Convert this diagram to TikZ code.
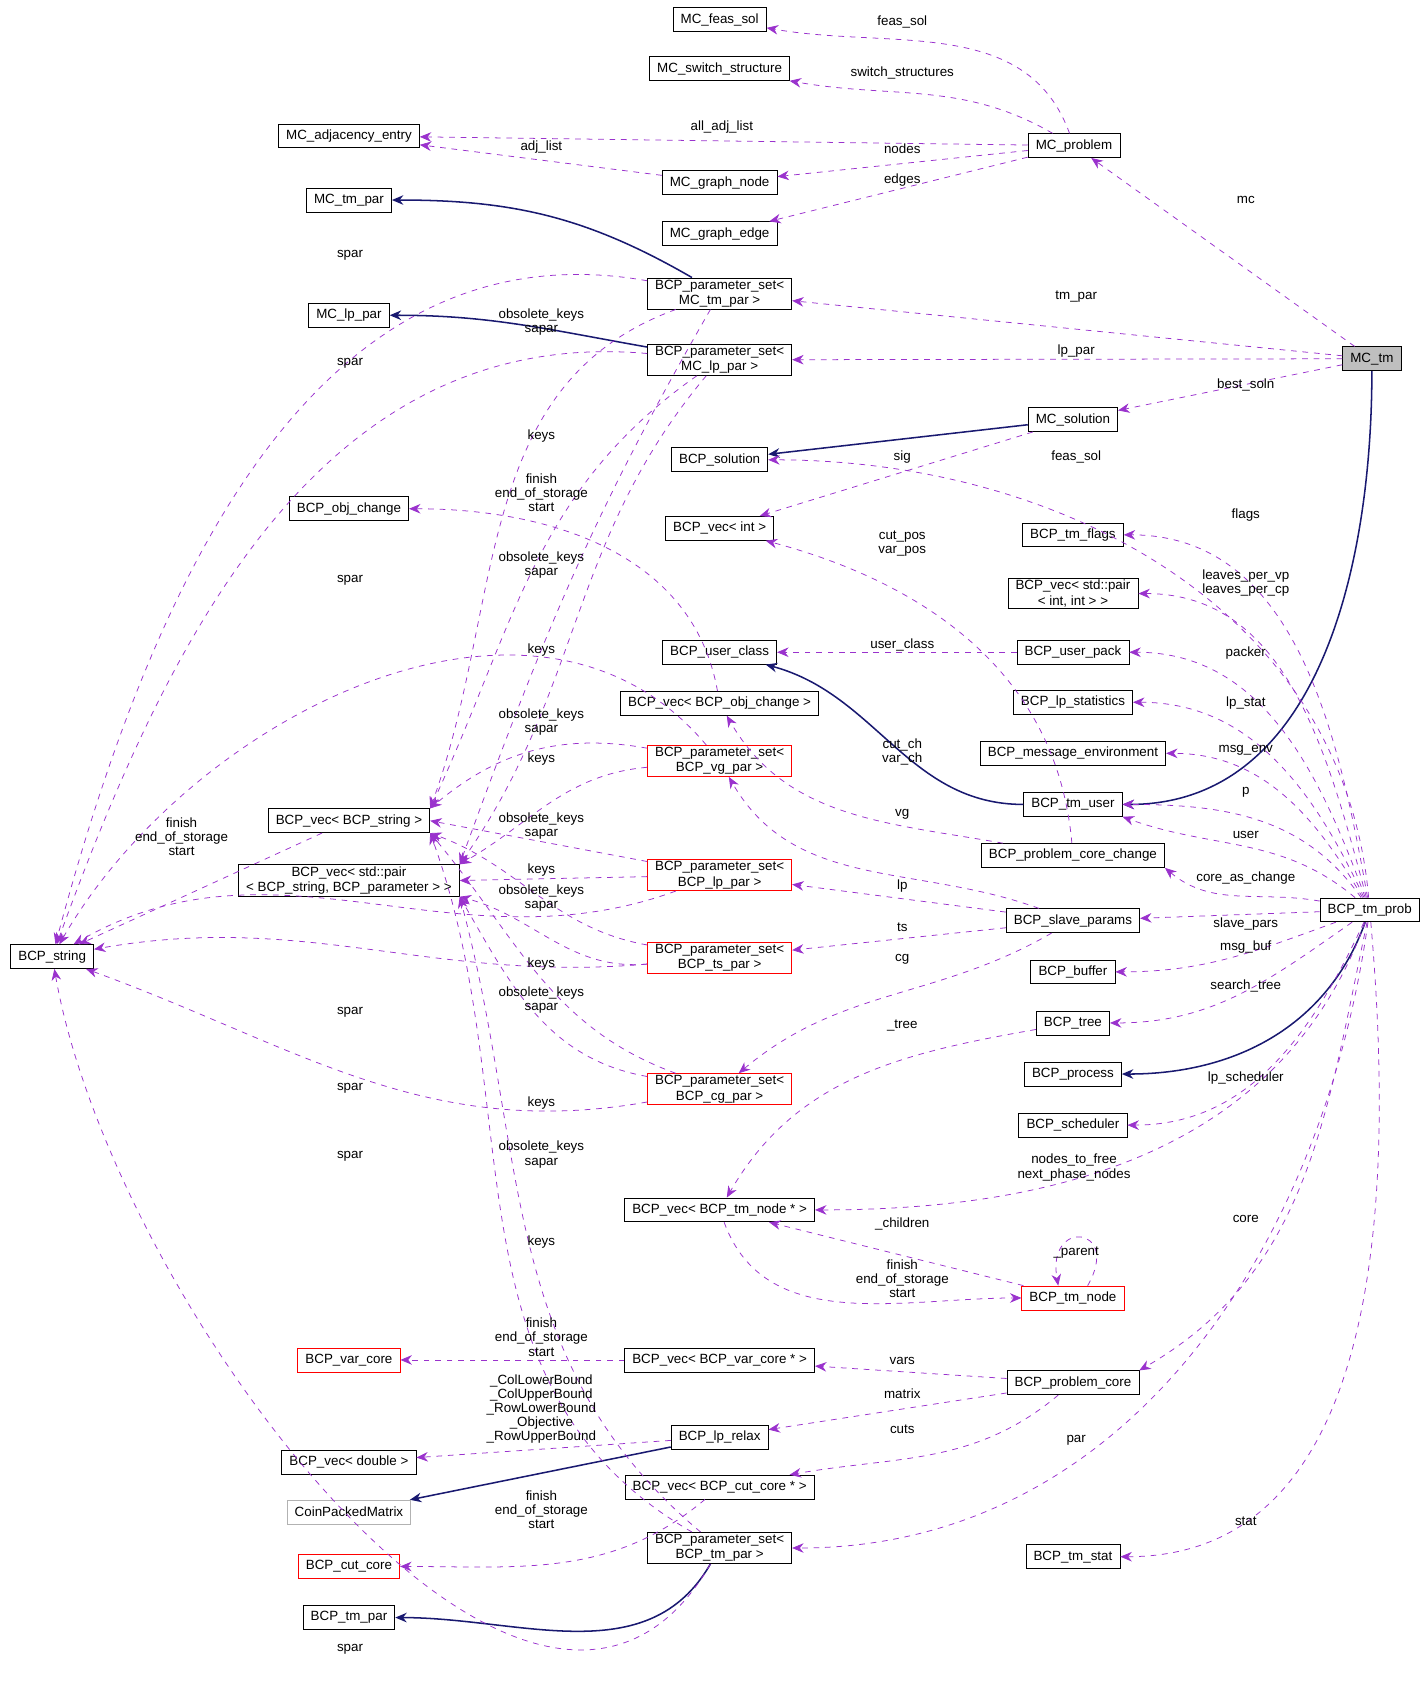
\documentclass[tikz,border=0pt]{standalone}
\usepackage{fontspec}
\setmainfont{Liberation Sans}
\usetikzlibrary{arrows.meta}
\definecolor{dep}{HTML}{9A32CD}
\definecolor{inh}{HTML}{191970}
\tikzset{
  cls/.style={draw=black,fill=white,font=\fontsize{7}{8}\selectfont,align=center,inner xsep=4pt,inner ysep=1pt,minimum height=0.44cm},
  redcls/.style={cls,draw=red},
  graycls/.style={cls,draw=black!30},
  lbl/.style={font=\fontsize{7}{7.4}\selectfont,align=center,inner sep=0pt},
  dep/.style={dashed,draw=dep,-{Stealth[length=6pt,width=5pt]},fill=none},
  inh/.style={draw=inh,thick,-{Stealth[length=6pt,width=5pt]}},
}
\begin{document}
\begin{tikzpicture}[x=0.02cm,y=0.02cm]
  \useasboundingbox (0,0) rectangle (1310,-1562);
  % classes
  \node[cls] (MC_feas_sol) at (662,-18) {MC\_feas\_sol};
  \node[cls] (MC_switch_structure) at (662,-63) {MC\_switch\_structure};
  \node[cls] (MC_adjacency_entry) at (321,-125) {MC\_adjacency\_entry};
  \node[cls] (MC_problem) at (988,-134) {MC\_problem};
  \node[cls] (MC_graph_node) at (662,-168) {MC\_graph\_node};
  \node[cls] (MC_tm_par) at (321,-184) {MC\_tm\_par};
  \node[cls] (MC_graph_edge) at (662,-215) {MC\_graph\_edge};
  \node[cls] (ps_mc_tm) at (662,-270) {BCP\_parameter\_set\textless\\MC\_tm\_par \textgreater};
  \node[cls] (MC_lp_par) at (321,-290) {MC\_lp\_par};
  \node[cls] (ps_mc_lp) at (662,-331) {BCP\_parameter\_set\textless\\MC\_lp\_par \textgreater};
  \node[cls,fill=black!25] (MC_tm) at (1262,-330) {MC\_tm};
  \node[cls] (MC_solution) at (987,-386) {MC\_solution};
  \node[cls] (BCP_solution) at (662,-423) {BCP\_solution};
  \node[cls] (BCP_obj_change) at (321,-468) {BCP\_obj\_change};
  \node[cls] (vec_int) at (662,-486) {BCP\_vec\textless{} int \textgreater};
  \node[cls] (BCP_tm_flags) at (987,-492) {BCP\_tm\_flags};
  \node[cls] (vec_pair_int) at (987,-546) {BCP\_vec\textless{} std::pair\\\textless{} int, int \textgreater{} \textgreater};
  \node[cls] (BCP_user_class) at (662,-600) {BCP\_user\_class};
  \node[cls] (BCP_user_pack) at (987,-600) {BCP\_user\_pack};
  \node[cls] (BCP_lp_statistics) at (987,-646) {BCP\_lp\_statistics};
  \node[cls] (vec_obj_change) at (662,-647) {BCP\_vec\textless{} BCP\_obj\_change \textgreater};
  \node[cls] (BCP_message_environment) at (987,-693) {BCP\_message\_environment};
  \node[redcls] (ps_vg) at (662,-700) {BCP\_parameter\_set\textless\\BCP\_vg\_par \textgreater};
  \node[cls] (BCP_tm_user) at (987,-740) {BCP\_tm\_user};
  \node[cls] (vec_str) at (321,-755) {BCP\_vec\textless{} BCP\_string \textgreater};
  \node[cls] (vec_pair) at (321,-810) {BCP\_vec\textless{} std::pair\\\textless{} BCP\_string, BCP\_parameter \textgreater{} \textgreater};
  \node[cls] (BCP_problem_core_change) at (987,-787) {BCP\_problem\_core\_change};
  \node[redcls] (ps_lp) at (662,-805) {BCP\_parameter\_set\textless\\BCP\_lp\_par \textgreater};
  \node[cls] (BCP_tm_prob) at (1260,-837) {BCP\_tm\_prob};
  \node[cls] (BCP_slave_params) at (987,-847) {BCP\_slave\_params};
  \node[cls] (BCP_string) at (48,-880) {BCP\_string};
  \node[redcls] (ps_ts) at (662,-881) {BCP\_parameter\_set\textless\\BCP\_ts\_par \textgreater};
  \node[cls] (BCP_buffer) at (987,-894) {BCP\_buffer};
  \node[cls] (BCP_tree) at (987,-941) {BCP\_tree};
  \node[cls] (BCP_process) at (987,-988) {BCP\_process};
  \node[redcls] (ps_cg) at (662,-1002) {BCP\_parameter\_set\textless\\BCP\_cg\_par \textgreater};
  \node[cls] (BCP_scheduler) at (987,-1035) {BCP\_scheduler};
  \node[cls] (vec_tm_node) at (662,-1113) {BCP\_vec\textless{} BCP\_tm\_node * \textgreater};
  \node[redcls] (BCP_tm_node) at (987,-1194) {BCP\_tm\_node};
  \node[redcls] (BCP_var_core) at (321,-1251) {BCP\_var\_core};
  \node[cls] (vec_var_core) at (662,-1251) {BCP\_vec\textless{} BCP\_var\_core * \textgreater};
  \node[cls] (BCP_problem_core) at (987,-1272) {BCP\_problem\_core};
  \node[cls] (BCP_lp_relax) at (662,-1322) {BCP\_lp\_relax};
  \node[cls] (vec_double) at (321,-1345) {BCP\_vec\textless{} double \textgreater};
  \node[graycls] (CoinPackedMatrix) at (321,-1391) {CoinPackedMatrix};
  \node[cls] (vec_cut_core) at (662,-1368) {BCP\_vec\textless{} BCP\_cut\_core * \textgreater};
  \node[cls] (ps_tm) at (662,-1424) {BCP\_parameter\_set\textless\\BCP\_tm\_par \textgreater};
  \node[redcls] (BCP_cut_core) at (321,-1441) {BCP\_cut\_core};
  \node[cls] (BCP_tm_stat) at (987,-1432) {BCP\_tm\_stat};
  \node[cls] (BCP_tm_par) at (321,-1488) {BCP\_tm\_par};
  % inheritance
  \draw[inh] (ps_mc_tm) to[out=150,in=0] (MC_tm_par);
  \draw[inh] (ps_mc_lp) to[out=170,in=0] (MC_lp_par);
  \draw[inh] (MC_solution) -- (BCP_solution);
  \draw[inh] (MC_tm) to[out=-90,in=0] (BCP_tm_user);
  \draw[inh] (BCP_tm_user) to[out=180,in=-15] (BCP_user_class);
  \draw[inh] (BCP_tm_prob) to[out=-110,in=0] (BCP_process);
  \draw[inh] (BCP_lp_relax) -- (CoinPackedMatrix);
  \draw[inh] (ps_tm) to[out=-120,in=0] (BCP_tm_par);
  % members of MC_problem and MC_tm
  \draw[dep] (MC_problem) to[out=110,in=-10] (MC_feas_sol);
  \draw[dep] (MC_problem) to[out=150,in=-10] (MC_switch_structure);
  \draw[dep] (MC_problem) -- (MC_adjacency_entry);
  \draw[dep] (MC_graph_node) -- (MC_adjacency_entry);
  \draw[dep] (MC_problem) -- (MC_graph_node);
  \draw[dep] (MC_problem) -- (MC_graph_edge);
  \draw[dep] (MC_tm) -- (MC_problem);
  \draw[dep] (MC_tm) -- (ps_mc_tm);
  \draw[dep] (MC_tm) -- (ps_mc_lp);
  \draw[dep] (MC_tm) -- (MC_solution);
  \draw[dep] (MC_solution) -- (vec_int);
  % members of BCP_tm_prob
  \draw[dep] (BCP_tm_prob) to[out=95,in=0] (BCP_solution);
  \draw[dep] (BCP_tm_prob) to[out=100,in=0] (BCP_tm_flags);
  \draw[dep] (BCP_tm_prob) to[out=105,in=0] (vec_pair_int);
  \draw[dep] (BCP_tm_prob) to[out=110,in=0] (BCP_user_pack);
  \draw[dep] (BCP_tm_prob) to[out=115,in=0] (BCP_lp_statistics);
  \draw[dep] (BCP_tm_prob) to[out=120,in=0] (BCP_message_environment);
  \draw[dep] (BCP_tm_prob) to[out=125,in=0] (BCP_tm_user);
  \draw[dep] (BCP_tm_prob) to[out=140,in=-20] (BCP_tm_user.south east);
  \draw[dep] (BCP_tm_prob) to[out=170,in=-40] (BCP_problem_core_change.south east);
  \draw[dep] (BCP_tm_prob) -- (BCP_slave_params);
  \draw[dep] (BCP_tm_prob) to[out=200,in=0] (BCP_buffer);
  \draw[dep] (BCP_tm_prob) to[out=215,in=0] (BCP_tree);
  \draw[dep] (BCP_tm_prob) to[out=245,in=0] (BCP_scheduler);
  \draw[dep] (BCP_tm_prob) to[out=250,in=0] (vec_tm_node);
  \draw[dep] (BCP_tm_prob) to[out=258,in=30] (BCP_problem_core.north east);
  \draw[dep] (BCP_tm_prob) to[out=262,in=0] (ps_tm);
  \draw[dep] (BCP_tm_prob) to[out=275,in=0] (BCP_tm_stat);
  \draw[dep] (BCP_user_pack) -- (BCP_user_class);
  % the rest
  \draw[dep] (BCP_problem_core_change) to[out=95,in=-15] (vec_int);
  \draw[dep] (BCP_problem_core_change) to[out=170,in=-60] (vec_obj_change);
  \draw[dep] (vec_obj_change) to[out=100,in=0] (BCP_obj_change);
  \draw[dep] (BCP_slave_params) to[out=160,in=-60] (ps_vg);
  \draw[dep] (BCP_slave_params) -- (ps_lp);
  \draw[dep] (BCP_slave_params) -- (ps_ts);
  \draw[dep] (BCP_slave_params) to[out=210,in=40] (ps_cg);
  \draw[dep] (BCP_tree) to[out=190,in=60] (vec_tm_node);
  \draw[dep] (BCP_tm_node) -- (vec_tm_node);
  \draw[dep] (vec_tm_node) to[out=-70,in=180] (BCP_tm_node);
  \draw[dep] (BCP_tm_node.40) to[out=60,in=100,looseness=6] (BCP_tm_node.140);
  \draw[dep] (BCP_problem_core) -- (vec_var_core);
  \draw[dep] (BCP_problem_core) -- (BCP_lp_relax);
  \draw[dep] (BCP_problem_core) to[out=220,in=10] (vec_cut_core);
  \draw[dep] (vec_var_core) -- (BCP_var_core);
  \draw[dep] (BCP_lp_relax) -- (vec_double);
  \draw[dep] (vec_cut_core) to[out=220,in=0] (BCP_cut_core);
  \draw[dep] (vec_str) -- (BCP_string);
  % parameter sets
  \draw[dep] (ps_mc_tm) to[out=170,in=75] (BCP_string);
  \draw[dep] (ps_mc_tm) to[out=200,in=70] (vec_str.north east);
  \draw[dep] (ps_mc_tm) to[out=240,in=70] (vec_pair.north east);
  \draw[dep] (ps_mc_lp) to[out=175,in=70] (BCP_string);
  \draw[dep] (ps_mc_lp) to[out=215,in=65] (vec_str.north east);
  \draw[dep] (ps_mc_lp) to[out=230,in=55] (vec_pair.north east);
  \draw[dep] (ps_vg) to[out=130,in=60] (BCP_string);
  \draw[dep] (ps_vg) to[out=170,in=40] (vec_str.north east);
  \draw[dep] (ps_vg) to[out=185,in=30] (vec_pair.north east);
  \draw[dep] (ps_lp) to[out=200,in=30] (BCP_string);
  \draw[dep] (ps_lp) -- (vec_str.east);
  \draw[dep] (ps_lp) -- (vec_pair.east);
  \draw[dep] (ps_ts) to[out=185,in=10] (BCP_string);
  \draw[dep] (ps_ts) to[out=170,in=-20] (vec_str.south east);
  \draw[dep] (ps_ts) to[out=185,in=-15] (vec_pair.south east);
  \draw[dep] (ps_cg) to[out=190,in=-20] (BCP_string);
  \draw[dep] (ps_cg) to[out=160,in=-50] (vec_str.south east);
  \draw[dep] (ps_cg) to[out=170,in=-60] (vec_pair.south east);
  \draw[dep] (ps_tm) to[out=240,in=-80] (BCP_string);
  \draw[dep] (ps_tm) to[out=150,in=-70] (vec_str.south east);
  \draw[dep] (ps_tm) to[out=140,in=-75] (vec_pair.south east);
  % labels
  \node[lbl] (t1) at (830,-20) {feas\_sol};
  \node[lbl] (t2) at (830,-67) {switch\_structures};
  \node[lbl] (t3) at (664,-117) {all\_adj\_list};
  \node[lbl] (t4) at (498,-135) {adj\_list};
  \node[lbl] (t5) at (830,-137) {nodes};
  \node[lbl] (t6) at (830,-166) {edges};
  \node[lbl] (t7) at (1146,-184) {mc};
  \node[lbl] (t8) at (322,-235) {spar};
  \node[lbl] (t9) at (990,-273) {tm\_par};
  \node[lbl] (t10) at (498,-296) {obsolete\_keys\\sapar};
  \node[lbl] (t11) at (990,-323) {lp\_par};
  \node[lbl] (t12) at (322,-334) {spar};
  \node[lbl] (t13) at (1146,-354) {best\_soln};
  \node[lbl] (t14) at (498,-401) {keys};
  \node[lbl] (t15) at (830,-420) {sig};
  \node[lbl] (t16) at (990,-420) {feas\_sol};
  \node[lbl] (t17) at (498,-453) {finish\\end\_of\_storage\\start};
  \node[lbl] (t18) at (1146,-474) {flags};
  \node[lbl] (t19) at (830,-500) {cut\_pos\\var\_pos};
  \node[lbl] (t20) at (498,-520) {obsolete\_keys\\sapar};
  \node[lbl] (t21) at (1146,-536) {leaves\_per\_vp\\leaves\_per\_cp};
  \node[lbl] (t22) at (322,-534) {spar};
  \node[lbl] (t23) at (498,-598) {keys};
  \node[lbl] (t24) at (830,-593) {user\_class};
  \node[lbl] (t25) at (1146,-601) {packer};
  \node[lbl] (t26) at (1146,-647) {lp\_stat};
  \node[lbl] (t27) at (498,-664) {obsolete\_keys\\sapar};
  \node[lbl] (t28) at (830,-692) {cut\_ch\\var\_ch};
  \node[lbl] (t29) at (498,-698) {keys};
  \node[lbl] (t30) at (1146,-690) {msg\_env};
  \node[lbl] (t31) at (1146,-729) {p};
  \node[lbl] (t32) at (167,-770) {finish\\end\_of\_storage\\start};
  \node[lbl] (t33) at (830,-749) {vg};
  \node[lbl] (t34) at (498,-760) {obsolete\_keys\\sapar};
  \node[lbl] (t35) at (1146,-768) {user};
  \node[lbl] (t36) at (498,-800) {keys};
  \node[lbl] (t37) at (1146,-808) {core\_as\_change};
  \node[lbl] (t38) at (830,-815) {lp};
  \node[lbl] (t39) at (498,-826) {obsolete\_keys\\sapar};
  \node[lbl] (t40) at (830,-853) {ts};
  \node[lbl] (t41) at (1146,-850) {slave\_pars};
  \node[lbl] (t42) at (830,-882) {cg};
  \node[lbl] (t43) at (498,-887) {keys};
  \node[lbl] (t44) at (1146,-871) {msg\_buf};
  \node[lbl] (t45) at (1146,-907) {search\_tree};
  \node[lbl] (t46) at (498,-920) {obsolete\_keys\\sapar};
  \node[lbl] (t47) at (322,-931) {spar};
  \node[lbl] (t48) at (830,-943) {\_tree};
  \node[lbl] (t49) at (1146,-992) {lp\_scheduler};
  \node[lbl] (t50) at (322,-1001) {spar};
  \node[lbl] (t51) at (498,-1015) {keys};
  \node[lbl] (t52) at (498,-1062) {obsolete\_keys\\sapar};
  \node[lbl] (t53) at (322,-1064) {spar};
  \node[lbl] (t54) at (988,-1074) {nodes\_to\_free\\next\_phase\_nodes};
  \node[lbl] (t55) at (1146,-1121) {core};
  \node[lbl] (t56) at (830,-1126) {\_children};
  \node[lbl] (t57) at (498,-1143) {keys};
  \node[lbl] (t58) at (990,-1152) {\_parent};
  \node[lbl] (t59) at (830,-1176) {finish\\end\_of\_storage\\start};
  \node[lbl] (t60) at (498,-1230) {finish\\end\_of\_storage\\start};
  \node[lbl] (t61) at (830,-1252) {vars};
  \node[lbl] (t62) at (830,-1282) {matrix};
  \node[lbl] (t63) at (498,-1296) {\_ColLowerBound\\\_ColUpperBound\\\_RowLowerBound\\\_Objective\\\_RowUpperBound};
  \node[lbl] (t64) at (830,-1315) {cuts};
  \node[lbl] (t65) at (990,-1325) {par};
  \node[lbl] (t66) at (498,-1389) {finish\\end\_of\_storage\\start};
  \node[lbl] (t67) at (1146,-1399) {stat};
  \node[lbl] (t68) at (322,-1517) {spar};
\end{tikzpicture}
\end{document}
